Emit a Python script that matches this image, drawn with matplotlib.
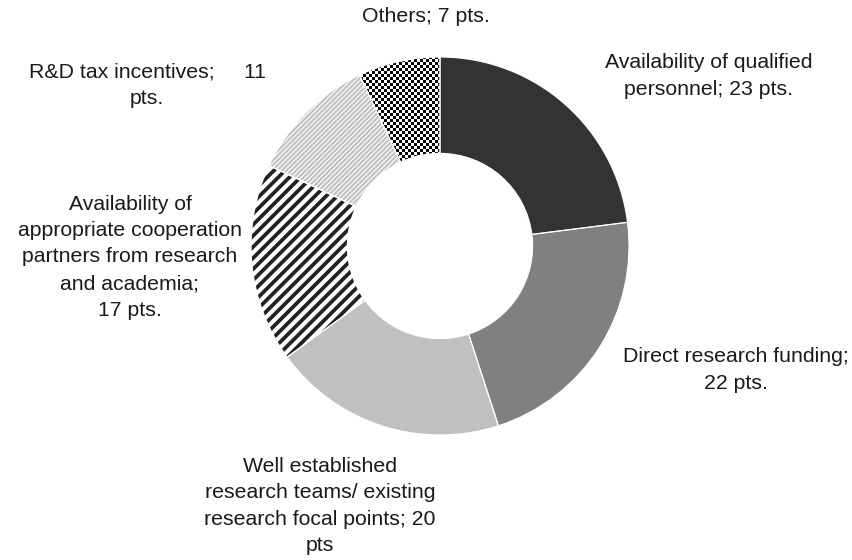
import matplotlib
matplotlib.use("Agg")
import matplotlib.pyplot as plt
from matplotlib.patches import Wedge
import numpy as np

categories = ["Availability of qualified\npersonnel; 23 pts.",
              "Direct research funding;\n22 pts.",
              "Well established\nresearch teams/ existing\nresearch focal points; 20\npts",
              "Availability of\nappropriate cooperation\npartners from research\nand academia;\n17 pts.",
              "R&D tax incentives;     11\npts.",
              "Others; 7 pts."]
values = [23, 22, 20, 17, 11, 7]

plt.rcParams['font.family'] = ['Liberation Sans', 'DejaVu Sans']

W, H = 853, 560
fig = plt.figure(figsize=(W / 100, H / 100), dpi=100)
ax = fig.add_axes([0, 0, 1, 1])

cx, cy = 440, H - 246
R = 189
width = 0.51

styles = [
    dict(fc='#333333', ec='none', hatch=None),
    dict(fc='#808080', ec='none', hatch=None),
    dict(fc='#c0c0c0', ec='none', hatch=None),
    dict(fc='white', ec='#222222', hatch='///', hlw=2.7),
    dict(fc='white', ec='#c2c2c2', hatch='///////', hlw=1.6),
    dict(fc='white', ec='none', hatch=None),
]

wedges, _ = ax.pie(values, startangle=90, counterclock=False, center=(cx, cy),
                   radius=R, wedgeprops=dict(width=R * width, linewidth=0),
                   frame=True)

for w, st in zip(wedges, styles):
    w.set_facecolor(st['fc'])
    w.set_edgecolor(st['ec'])
    w.set_linewidth(0)
    if st['hatch']:
        w.set_hatch(st['hatch'])
        try:
            w.set_hatch_linewidth(st['hlw'])
        except Exception:
            plt.rcParams['hatch.linewidth'] = st['hlw']

# checkerboard for "Others"
n = 3
yy, xx = np.mgrid[0:H, 0:W]
checker = (((xx // n) + (yy // n)) % 2).astype(float)
im = ax.imshow(checker, cmap='gray', extent=(0, W, 0, H), origin='lower',
               interpolation='nearest', vmin=0, vmax=1, zorder=1.5)
im.set_clip_path(wedges[5])

# thin white separators
for w in wedges:
    sep = Wedge(w.center, w.r, w.theta1, w.theta2, width=w.width,
                fc='none', ec='white', lw=0.8, zorder=3)
    ax.add_patch(sep)

ax.set_aspect('auto')
ax.set_xlim(0, W)
ax.set_ylim(0, H)
ax.axis('off')

label_pos = [(709, 76), (736, 370), (320, 506), (130, 257), (147, 85), (426, 17)]
for txt, (x, y) in zip(categories, label_pos):
    ax.text(x, H - y, txt, ha='center', va='center', fontsize=15.3,
            color='#1a1a1a', linespacing=1.5, multialignment='center')

fig.savefig("out.png", dpi=100)
